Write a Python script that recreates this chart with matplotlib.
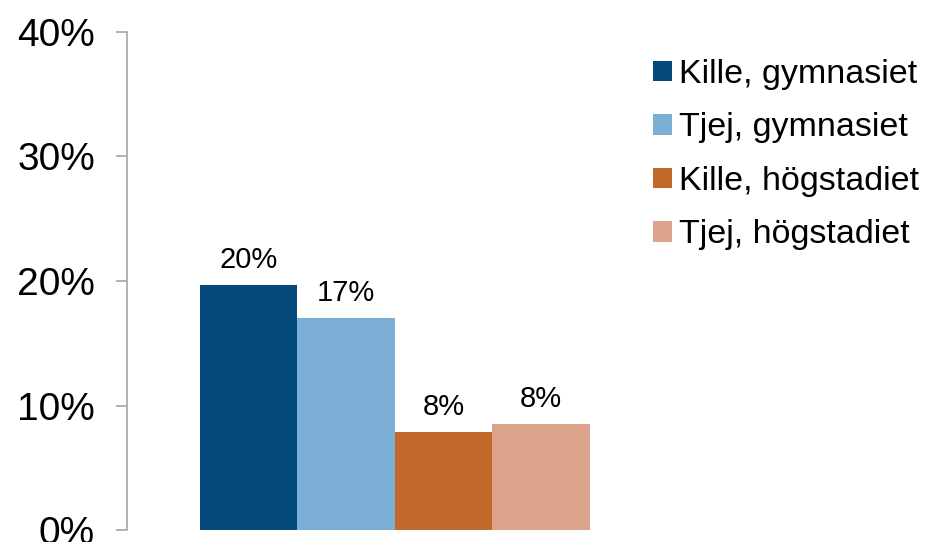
import matplotlib.pyplot as plt
import numpy as np

plt.rcParams['font.family'] = ['Liberation Sans', 'DejaVu Sans']

series = ['Kille, gymnasiet', 'Tjej, gymnasiet', 'Kille, högstadiet', 'Tjej, högstadiet']
values = [19.7, 17.0, 7.9, 8.5]
colors = ['#03497A', '#7BAFD6', '#C0682A', '#DBA48A']
yticks = [0, 10, 20, 30, 40]

fig = plt.figure(figsize=(9.31, 5.42), dpi=100)
ax = fig.add_axes([0.1364, 0.0221, 0.5756, 0.9189])

pos = np.arange(len(values)) - 1.5
for x, v, c, name in zip(pos, values, colors, series):
    bars = ax.bar(x, v, width=1.0, color=c, label=name)
    ax.bar_label(bars, labels=[f'{v:.0f}%'], padding=8, fontsize=21)

ax.set_xlim(-2.749, 2.749)
ax.set_ylim(0, 40)
ax.set_yticks(yticks)
ax.set_yticklabels([f'{t}%' for t in yticks], fontsize=28)
ax.set_xticks([])
for s in ['top', 'right', 'bottom']:
    ax.spines[s].set_visible(False)
ax.spines['left'].set_color('#A6A6A6')
ax.spines['left'].set_linewidth(1.2)
ax.tick_params(axis='y', length=8, width=1.2, color='#A6A6A6', pad=15)

fig.legend(loc='upper left', bbox_to_anchor=(653 / 931, 1 - 59 / 542),
           frameon=False, fontsize=24.5, handlelength=0.55, handleheight=0.55,
           handletextpad=0.22, labelspacing=0.66, borderpad=0, borderaxespad=0)

fig.savefig('out.png', dpi=100)
